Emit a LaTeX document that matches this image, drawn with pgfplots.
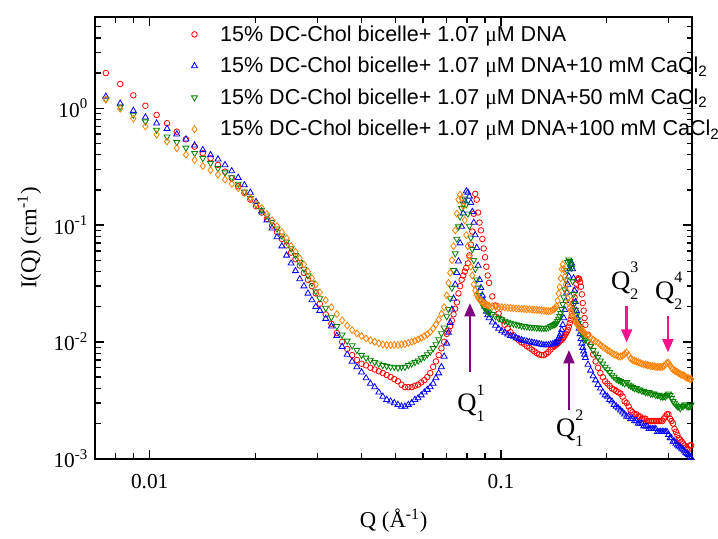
\documentclass[border=0pt]{standalone}
\usepackage{fontspec}
\setmainfont{Liberation Serif}
\setsansfont{Liberation Sans}
\newfontfamily\lserif{Liberation Serif}
\usepackage{pgfplots}
\usepackage{pgfplotstable}
\pgfplotsset{compat=1.18}
\usetikzlibrary{arrows.meta}

\definecolor{sred}{RGB}{255,0,0}
\definecolor{sblue}{RGB}{0,0,255}
\definecolor{sgreen}{RGB}{0,128,0}
\definecolor{sorange}{RGB}{255,128,0}
\definecolor{apurple}{RGB}{128,0,128}
\definecolor{apink}{RGB}{250,20,140}

% Q, then I(Q) for: R = no salt, B = 10 mM, G = 50 mM, O = 100 mM CaCl2
\pgfplotstableread{
Q R B G O
0.0075 2.00 1.26 1.19 1.19
0.00824 1.61 1.10 1.03 0.99
0.00898 1.29 0.954 0.877 0.815
0.00972 1.05 0.838 0.768 0.70
0.01046 0.877 0.744 0.652 0.595
0.0112 0.744 0.669 0.571 0.52
0.01194 0.63 0.599 0.512 0.455
0.01268 0.543 0.543 0.458 0.40
0.01342 0.469 0.482 0.412 0.36
0.01416 0.412 0.44 0.373 0.32
0.0149 0.373 0.398 0.338 0.295
0.01564 0.327 0.366 0.306 0.27
0.01638 0.287 0.327 0.281 0.245
0.01712 0.252 0.29 0.255 0.225
0.01786 0.215 0.2545 0.225 0.207
0.0186 0.188 0.22 0.193 0.188
0.01934 0.165 0.19 0.17 0.17
0.02008 0.145 0.158 0.15 0.152
0.02082 0.128 0.131 0.134 0.14
0.02156 0.113 0.11 0.12 0.124
0.0223 0.099 0.094 0.106 0.11
0.02304 0.087 0.079 0.093 0.098
0.02378 0.076 0.066 0.081 0.087
0.02452 0.067 0.055 0.072 0.077
0.02526 0.058 0.047 0.063 0.066
0.026 0.051 0.0405 0.055 0.059
0.02674 0.045 0.0345 0.048 0.052
0.02748 0.039 0.030 0.042 0.046
0.02822 0.034 0.026 0.037 0.040
0.02896 0.030 0.0228 0.032 0.035
0.0297 0.026 0.020 0.027 0.031
0.0305 0.0212 0.0185 0.0235 0.0265
0.0317 0.0172 0.0158 0.0195 0.0228
0.0329 0.0143 0.0136 0.0162 0.0198
0.0341 0.0119 0.0113 0.0136 0.0173
0.0353 0.0100 0.0091 0.0115 0.0153
0.0365 0.0087 0.0078 0.0102 0.0138
0.0377 0.0077 0.0068 0.0093 0.0126
0.0389 0.0070 0.0061 0.0085 0.0118
0.0401 0.0065 0.0055 0.0077 0.0112
0.0413 0.0063 0.0049 0.0073 0.0107
0.0425 0.0060 0.0044 0.0070 0.0103
0.0437 0.0058 0.0041 0.0067 0.0100
0.0449 0.0056 0.0037 0.0065 0.0097
0.0461 0.0054 0.0034 0.0063 0.0095
0.0473 0.0052 0.0032 0.0062 0.0094
0.0485 0.0050 0.0031 0.0061 0.0094
0.0497 0.0048 0.0030 0.0061 0.0094
0.0509 0.0046 0.0029 0.0060 0.0094
0.0521 0.0043 0.0028 0.0061 0.0095
0.0533 0.0041 0.0028 0.0061 0.0096
0.0545 0.0041 0.0029 0.0063 0.0098
0.0557 0.0041 0.0030 0.0065 0.0100
0.0569 0.0042 0.0032 0.0067 0.0102
0.0581 0.0043 0.0033 0.0069 0.0105
0.0593 0.0045 0.0035 0.0072 0.0108
0.0605 0.0047 0.0037 0.0074 0.0112
0.0617 0.0050 0.0039 0.0078 0.0116
0.0629 0.0054 0.0041 0.0082 0.0122
0.0641 0.0061 0.0044 0.0088 0.0130
0.0653 0.0068 0.0049 0.0095 0.0141
0.0665 0.0077 0.0054 0.0105 0.0155
0.0677 0.0088 0.0061 0.0118 0.0174
0.0689 0.0100 0.0075 0.0132 0.0198
0.0701 0.0117 0.0097 0.0165 0.0250
0.0709 0.0125 0.0120 0.0190 0.0320
0.0717 0.0136 0.0146 0.0235 0.0390
0.0725 0.0152 0.0190 0.0290 0.0500
0.0733 0.0172 0.0235 0.0410 0.0660
0.0741 0.0192 0.0310 0.0570 0.0900
0.0749 0.0218 0.0390 0.0760 0.125
0.0757 0.0260 0.0490 0.097 0.165
0.0765 0.0300 0.0700 0.118 0.182
0.0773 0.0340 0.097 0.139 0.170
0.0781 0.0370 0.126 0.152 0.145
0.0789 0.0400 0.160 0.168 0.110
0.0797 0.0430 0.195 0.150 0.082
0.0805 0.0470 0.190 0.125 0.066
0.0813 0.0550 0.176 0.098 0.053
0.0821 0.0680 0.155 0.078 0.044
0.0829 0.0880 0.130 0.062 0.037
0.0837 0.125 0.105 0.050 0.031
0.0845 0.185 0.082 0.042 0.0275
0.0853 0.165 0.064 0.034 0.0255
0.0861 0.128 0.045 0.029 0.0240
0.0869 0.105 0.034 0.025 0.0230
0.0877 0.090 0.029 0.0225 0.0224
0.0885 0.076 0.025 0.0210 0.0218
0.0893 0.063 0.0225 0.0200 0.0214
0.0901 0.053 0.0200 0.0193 0.0211
0.0909 0.044 0.0182 0.0187 0.0208
0.0917 0.037 0.0170 0.0182 0.0206
0.0925 0.032 0.0160 0.0178 0.0204
0.0945 0.0245 0.0147 0.0172 0.0202
0.0965 0.0205 0.0138 0.0165 0.0200
0.0985 0.0175 0.0130 0.0159 0.0199
0.1005 0.0155 0.0124 0.0155 0.0198
0.1025 0.0140 0.0120 0.0151 0.0197
0.1045 0.0130 0.0116 0.0148 0.0196
0.1065 0.0121 0.0113 0.0145 0.0195
0.1085 0.0114 0.0111 0.0143 0.0194
0.1105 0.0108 0.0108 0.0141 0.0193
0.1125 0.0103 0.0106 0.0139 0.0193
0.1145 0.0099 0.0104 0.0137 0.0192
0.1165 0.0096 0.0102 0.0136 0.0191
0.1185 0.0092 0.0101 0.0135 0.0190
0.1205 0.0089 0.0100 0.0134 0.0190
0.1225 0.0086 0.0099 0.0133 0.0189
0.1245 0.0083 0.0098 0.0133 0.0188
0.1265 0.0080 0.0097 0.0132 0.0188
0.1285 0.0078 0.0096 0.0132 0.0187
0.1305 0.0077 0.0095 0.0131 0.0186
0.1325 0.0077 0.0094 0.0131 0.0185
0.1345 0.0079 0.0094 0.0131 0.0184
0.1365 0.0082 0.0094 0.0133 0.0183
0.1385 0.0086 0.0095 0.0136 0.0183
0.1405 0.0090 0.0096 0.0139 0.0188
0.142 0.0092 0.0097 0.0141 0.0192
0.143 0.0094 0.0098 0.0143 0.0196
0.144 0.0095 0.0100 0.0145 0.0202
0.145 0.0097 0.0103 0.0150 0.0225
0.146 0.0099 0.0107 0.0157 0.0260
0.147 0.0101 0.0112 0.0166 0.0295
0.148 0.0103 0.0118 0.0176 0.0350
0.149 0.0104 0.0127 0.0190 0.0420
0.150 0.0107 0.0140 0.0210 0.0460
0.151 0.0110 0.0160 0.0240 0.0420
0.152 0.0114 0.0188 0.0280 0.0360
0.153 0.0118 0.0225 0.0340 0.0310
0.154 0.0122 0.0265 0.0410 0.0270
0.155 0.0127 0.0310 0.0480 0.0235
0.156 0.0135 0.0365 0.0505 0.0215
0.157 0.0145 0.0420 0.0490 0.0198
0.158 0.0155 0.0460 0.0465 0.0185
0.159 0.0166 0.0470 0.0430 0.0176
0.160 0.0190 0.0420 0.0330 0.0168
0.161 0.0215 0.0350 0.0255 0.0162
0.162 0.0240 0.0275 0.0215 0.0156
0.163 0.0280 0.0220 0.0188 0.0150
0.164 0.0315 0.0185 0.0168 0.0145
0.165 0.0340 0.0160 0.0155 0.0141
0.166 0.0350 0.0144 0.0145 0.0137
0.167 0.0345 0.0130 0.0137 0.0134
0.168 0.0325 0.0117 0.0130 0.0131
0.169 0.0297 0.0106 0.0124 0.0128
0.170 0.0255 0.0097 0.0119 0.0125
0.171 0.0215 0.0089 0.0115 0.0123
0.172 0.0185 0.0083 0.0111 0.0121
0.173 0.0160 0.0078 0.0107 0.0119
0.174 0.0140 0.0073 0.0104 0.0117
0.177 0.0115 0.0064 0.0100 0.0113
0.180 0.0095 0.0057 0.0092 0.0109
0.183 0.0078 0.0051 0.0085 0.0105
0.186 0.0068 0.0047 0.0079 0.0101
0.189 0.0060 0.0043 0.0074 0.0098
0.192 0.0054 0.0040 0.0069 0.0094
0.195 0.0050 0.0037 0.0065 0.0091
0.198 0.0046 0.0035 0.0061 0.0088
0.201 0.0044 0.0034 0.0058 0.0085
0.204 0.0042 0.0032 0.0055 0.0083
0.207 0.0040 0.0031 0.0052 0.0080
0.210 0.0039 0.0029 0.0050 0.0078
0.213 0.0038 0.0028 0.0048 0.0077
0.216 0.0037 0.0027 0.0047 0.0075
0.219 0.0036 0.0026 0.0046 0.0075
0.222 0.0034 0.0025 0.0045 0.0076
0.225 0.0031 0.0024 0.0044 0.0079
0.228 0.0030 0.0023 0.0045 0.0081
0.231 0.0028 0.0023 0.0043 0.0077
0.234 0.0026 0.0022 0.0042 0.0072
0.237 0.0025 0.0022 0.0041 0.0070
0.240 0.0024 0.0021 0.0040 0.0069
0.243 0.0024 0.0021 0.0040 0.0068
0.246 0.0023 0.0020 0.0039 0.0067
0.249 0.0023 0.0020 0.0039 0.0066
0.252 0.0022 0.0020 0.0038 0.0065
0.255 0.0022 0.0019 0.0038 0.0064
0.258 0.0022 0.0019 0.0037 0.0064
0.261 0.0021 0.0019 0.0037 0.0063
0.264 0.0021 0.0018 0.0037 0.0063
0.267 0.0021 0.0018 0.0036 0.0062
0.270 0.0021 0.0018 0.0036 0.0062
0.273 0.0021 0.0018 0.0036 0.0062
0.276 0.0021 0.0018 0.0035 0.0061
0.279 0.0021 0.0017 0.0035 0.0061
0.282 0.0021 0.0017 0.0035 0.0061
0.285 0.0021 0.0017 0.0034 0.0061
0.288 0.0021 0.0017 0.0034 0.0061
0.291 0.0022 0.0017 0.0034 0.0062
0.294 0.0023 0.0017 0.0034 0.0064
0.297 0.0024 0.0017 0.0035 0.0066
0.300 0.0024 0.0016 0.0036 0.0066
0.303 0.0022 0.0015 0.0035 0.0063
0.306 0.0021 0.0015 0.0033 0.0060
0.309 0.0020 0.0014 0.0031 0.0058
0.312 0.0018 0.0014 0.0030 0.0057
0.315 0.0017 0.00135 0.0029 0.0056
0.318 0.0016 0.0013 0.0028 0.0055
0.321 0.0015 0.00128 0.0028 0.0054
0.324 0.00145 0.00125 0.0027 0.0053
0.327 0.0014 0.00122 0.0028 0.0052
0.330 0.00135 0.0012 0.0028 0.0052
0.333 0.0013 0.00116 0.0029 0.0051
0.336 0.00125 0.00112 0.0029 0.0050
0.339 0.00122 0.0011 0.0028 0.0049
0.342 0.0012 0.00108 0.0028 0.0049
0.345 0.0013 0.00105 0.0028 0.0048
0.348 0.0013 0.00102 0.0029 0.0048
}\saxsdata

% Q with stacked indices, as in the peak labels
\newcommand{\Qlab}[2]{Q\rlap{\raisebox{0.62em}{\fontsize{12}{12}\selectfont #1}}\raisebox{-0.38em}{\fontsize{12}{12}\selectfont #2}}

\begin{document}
\begin{tikzpicture}
\begin{axis}[
  name=ax,
  xmode=log, ymode=log,
  scale only axis,
  width=447.5pt, height=331pt,
  xmin=0.007, xmax=0.35,
  ymin=1e-3, ymax=6,
  xtick={0.01,0.1},
  xticklabels={0.01,0.1},
  ytick={1e-3,1e-2,1e-1,1},
  yticklabels={10\textsuperscript{-3},10\textsuperscript{-2},10\textsuperscript{-1},10\textsuperscript{0}},
  minor xtick={0.008,0.009,0.02,0.03,0.04,0.05,0.06,0.07,0.08,0.09,0.2,0.3},
  minor ytick={0.002,0.003,0.004,0.005,0.006,0.007,0.008,0.009,
               0.02,0.03,0.04,0.05,0.06,0.07,0.08,0.09,
               0.2,0.3,0.4,0.5,0.6,0.7,0.8,0.9,2,3,4,5},
  tick align=inside,
  major tick length=6.5pt,
  minor tick length=4pt,
  every tick/.style={black, line width=1pt},
  axis line style={line width=1.3pt},
  tick label style={font=\fontsize{16}{18}\selectfont},
  xticklabel style={yshift=-8pt},
  yticklabel style={xshift=-2pt},
  label style={font=\fontsize{17}{20}\selectfont},
  xlabel={Q (Å\textsuperscript{-1})},
  ylabel={I(Q) (cm\textsuperscript{-1})},
  xlabel style={at={(axis description cs:0.5,-0.141)}, anchor=center},
  ylabel style={at={(axis description cs:-0.1106,0.5)}, anchor=center},
  legend style={draw=none, fill=none,
    at={(axis description cs:0.154,0.994)}, anchor=north west,
    font=\fontsize{16.15}{18}\sffamily, row sep=6.5pt,
    /tikz/every odd column/.append style={column sep=15pt}},
  legend cell align=left,
]
\addplot[only marks, mark=o, color=sred, mark size=2.1pt,
  mark options={line width=0.6pt}] table[x=Q, y=R] {\saxsdata};
\addlegendentry{15\% DC-Chol bicelle+ 1.07 {\lserif μ}M DNA}
\addplot[only marks, mark=triangle, color=sblue, mark size=2.6pt,
  mark options={line width=0.6pt}] table[x=Q, y=B] {\saxsdata};
\addlegendentry{15\% DC-Chol bicelle+ 1.07 {\lserif μ}M DNA+10 mM CaCl\textsubscript{2}}
\addplot[only marks, mark=triangle, color=sgreen, mark size=2.6pt,
  mark options={line width=0.6pt, rotate=180}] table[x=Q, y=G] {\saxsdata};
\addlegendentry{15\% DC-Chol bicelle+ 1.07 {\lserif μ}M DNA+50 mM CaCl\textsubscript{2}}
\addplot[only marks, mark=diamond, color=sorange, mark size=2.6pt,
  mark options={line width=0.6pt}] table[x=Q, y=O] {\saxsdata};
\addlegendentry{15\% DC-Chol bicelle+ 1.07 {\lserif μ}M DNA+100 mM CaCl\textsubscript{2}}

% peak markers
\draw[apurple, line width=2pt, -{Triangle[length=10pt,width=8pt]}]
  (axis cs:0.0816,0.00552) -- (axis cs:0.0816,0.0215);
\draw[apurple, line width=2pt, -{Triangle[length=10pt,width=8pt]}]
  (axis cs:0.1562,0.00261) -- (axis cs:0.1562,0.00853);
\draw[apink, line width=2pt, -{Triangle[length=10pt,width=8pt]}]
  (axis cs:0.228,0.0203) -- (axis cs:0.228,0.00985);
\draw[apink, line width=2pt, -{Triangle[length=10pt,width=8pt]}]
  (axis cs:0.2988,0.01667) -- (axis cs:0.2988,0.0081);
\node[anchor=base west, inner sep=0pt, font=\fontsize{20}{22}\selectfont]
  at (axis cs:0.0750,0.002526) {\Qlab{1}{1}};
\node[anchor=base west, inner sep=0pt, font=\fontsize{20}{22}\selectfont]
  at (axis cs:0.1434,0.001543) {\Qlab{2}{1}};
\node[anchor=base west, inner sep=0pt, font=\fontsize{20}{22}\selectfont]
  at (axis cs:0.2056,0.0282) {\Qlab{3}{2}};
\node[anchor=base west, inner sep=0pt, font=\fontsize{20}{22}\selectfont]
  at (axis cs:0.2744,0.02316) {\Qlab{4}{2}};
\end{axis}
\pgfresetboundingbox
\path[use as bounding box]
  ([xshift=-71.5pt,yshift=-59.5pt]ax.south west)
  rectangle ([xshift=19.5pt,yshift=13pt]ax.north east);
\end{tikzpicture}
\end{document}
